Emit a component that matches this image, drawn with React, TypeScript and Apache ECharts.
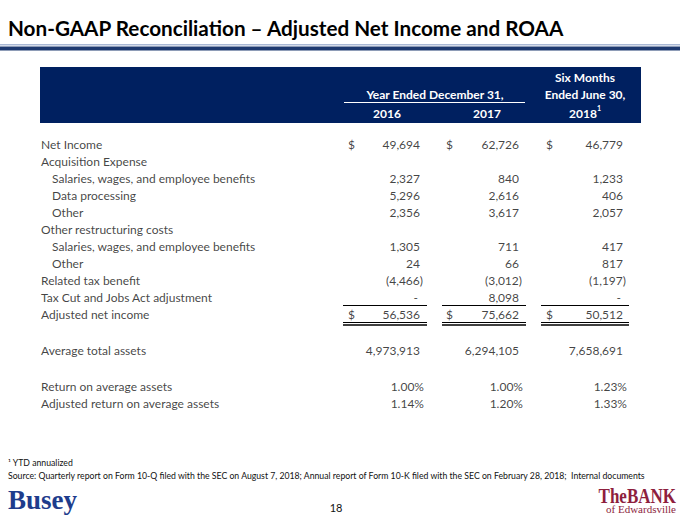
import React, { useEffect, useRef } from "react";
import * as echarts from "echarts";

// ---- Data ----
const rowLabels = [
  "Net Income",
  "Acquisition Expense",
  "Salaries, wages, and employee benefits",
  "Data processing",
  "Other",
  "Other restructuring costs",
  "Salaries, wages, and employee benefits",
  "Other",
  "Related tax benefit",
  "Tax Cut and Jobs Act adjustment",
  "Adjusted net income",
  "Average total assets",
  "Return on average assets",
  "Adjusted return on average assets",
];
const indentedRows = [2, 3, 4, 6, 7];
const dollarRows = [0, 10];
const percentRows = [12, 13];
const columnHeaders = ["2016", "2017", "2018"];
const values2016 = [49694, null, 2327, 5296, 2356, null, 1305, 24, -4466, 0, 56536, 4973913, 1.0, 1.14];
const values2017 = [62726, null, 840, 2616, 3617, null, 711, 66, -3012, 8098, 75662, 6294105, 1.0, 1.2];
const values2018 = [46779, null, 1233, 406, 2057, null, 417, 817, -1197, 0, 50512, 7658691, 1.23, 1.33];
const seriesValues = [values2016, values2017, values2018];

const TITLE = "Non-GAAP Reconciliation – Adjusted Net Income and ROAA";
const FOOTNOTE = "¹ YTD annualized";
const SOURCE =
  "Source: Quarterly report on Form 10-Q filed with the SEC on August 7, 2018; Annual report of Form 10-K filed with the SEC on February 28, 2018;  Internal documents";

// ---- Layout ----
const FONT = "Lato, 'Open Sans', sans-serif";
const NAVY = "#002060";
const colRight = [420, 519, 623];
const colDollar = [348, 446, 546];
const colLineL = [343, 442, 541];
const colLineR = [427, 526, 629];
const rowY = (i: number) => 144 + 17 * i + (i >= 11 ? 19 : 0) + (i >= 12 ? 19 : 0);

function fmt(v: number, row: number) {
  if (percentRows.includes(row)) return v.toFixed(2) + "%";
  if (v === 0) return "-";
  const s = Math.abs(v).toLocaleString("en-US");
  return v < 0 ? "(" + s + ")" : s;
}
function xShift(v: number, row: number) {
  if (percentRows.includes(row)) return 4;
  if (v === 0) return -2;
  if (v < 0) return 3;
  return 0;
}

export default function App() {
  const ref = useRef<HTMLDivElement>(null);
  useEffect(() => {
    if (!ref.current) return;
    const chart = echarts.init(ref.current, null, { renderer: "svg" });

    const labelData = rowLabels.map((name, i) => ({
      name,
      value: [indentedRows.includes(i) ? 52 : 41, rowY(i)],
    }));
    const dollarData: any[] = [];
    dollarRows.forEach((r) =>
      colDollar.forEach((x) => dollarData.push({ name: "$", value: [x, rowY(r)] }))
    );
    const valueData: any[] = [];
    seriesValues.forEach((vals, c) =>
      vals.forEach((v, r) => {
        if (v === null || v === undefined) return;
        valueData.push({ name: fmt(v, r), value: [colRight[c] + xShift(v, r), rowY(r)] });
      })
    );

    const textStyleBase = { fontFamily: FONT, fontSize: 12, color: "#111" };
    const hdr = (text: string, x: number, y: number) => ({
      type: "text",
      x,
      y,
      style: {
        text,
        fill: "#fff",
        font: `bold 12px ${FONT}`,
        align: "center",
        verticalAlign: "middle",
      },
    });

    const lines: any[] = [];
    colLineL.forEach((l, c) => {
      const r = colLineR[c];
      lines.push({ type: "line", shape: { x1: l, y1: 305.5, x2: r, y2: 305.5 }, style: { stroke: "#000", lineWidth: 1 } });
      lines.push({ type: "line", shape: { x1: l, y1: 322.5, x2: r, y2: 322.5 }, style: { stroke: "#000", lineWidth: 1 } });
      lines.push({ type: "line", shape: { x1: l, y1: 325, x2: r, y2: 325 }, style: { stroke: "#000", lineWidth: 1.5 } });
    });

    chart.setOption({
      animation: false,
      grid: { left: 0, right: 0, top: 0, bottom: 0 },
      xAxis: { type: "value", min: 0, max: 680, show: false },
      yAxis: { type: "value", min: 0, max: 517, inverse: true, show: false },
      series: [
        {
          type: "scatter",
          symbolSize: 0,
          silent: true,
          data: labelData,
          label: { show: true, position: "right", distance: 0, formatter: (p: any) => p.name, ...textStyleBase },
        },
        {
          type: "scatter",
          symbolSize: 0,
          silent: true,
          data: dollarData,
          label: { show: true, position: "right", distance: 0, formatter: (p: any) => p.name, ...textStyleBase },
        },
        {
          type: "scatter",
          symbolSize: 0,
          silent: true,
          data: valueData,
          label: { show: true, position: "left", distance: 0, formatter: (p: any) => p.name, ...textStyleBase },
        },
      ],
      graphic: [
        {
          type: "text",
          x: 8,
          y: 28,
          style: { text: TITLE, fill: "#000", font: `bold 20.7px ${FONT}`, verticalAlign: "middle" },
        },
        { type: "rect", shape: { x: 0, y: 44, width: 680, height: 1.5 }, style: { fill: "#A9B8D4" } },
        { type: "rect", shape: { x: 0, y: 46.5, width: 680, height: 4 }, style: { fill: "#1F3A70" } },
        { type: "rect", shape: { x: 40, y: 67, width: 601, height: 56 }, style: { fill: NAVY } },
        hdr("Six Months", 585, 77),
        hdr("Year Ended December 31,", 435, 94),
        hdr("Ended June 30,", 585, 94),
        { type: "line", shape: { x1: 344, y1: 102.5, x2: 525, y2: 102.5 }, style: { stroke: "#fff", lineWidth: 1 } },
        hdr(columnHeaders[0], 387, 113),
        hdr(columnHeaders[1], 487, 113),
        hdr(columnHeaders[2], 583, 113),
        {
          type: "text",
          x: 597,
          y: 108,
          style: { text: "1", fill: "#fff", font: `bold 7px ${FONT}`, verticalAlign: "middle" },
        },
        ...lines,
        {
          type: "text",
          x: 8,
          y: 462,
          style: { text: FOOTNOTE, fill: "#111", font: `8.7px ${FONT}`, verticalAlign: "middle" },
        },
        {
          type: "text",
          x: 8,
          y: 475,
          style: { text: SOURCE, fill: "#111", font: `8.7px ${FONT}`, verticalAlign: "middle" },
        },
        {
          type: "text",
          x: 336,
          y: 507,
          style: { text: "18", fill: "#111", font: `11px ${FONT}`, align: "center", verticalAlign: "middle" },
        },
        {
          type: "text",
          x: 8,
          y: 500,
          style: {
            text: "Busey",
            fill: "#1E3C8C",
            font: `bold 27px 'Liberation Serif', 'DejaVu Serif', serif`,
            verticalAlign: "middle",
          },
        },
        {
          type: "text",
          x: 676,
          y: 496,
          scaleX: 0.85,
          style: {
            text: "TheBANK",
            fill: "#8E1F3E",
            font: `bold 20px 'Liberation Serif', 'DejaVu Serif', serif`,
            align: "right",
            verticalAlign: "middle",
          },
        },
        {
          type: "text",
          x: 676,
          y: 509,
          style: {
            text: "of Edwardsville",
            fill: "#8E1F3E",
            font: `11px 'Liberation Serif', 'DejaVu Serif', serif`,
            align: "right",
            verticalAlign: "middle",
          },
        },
      ],
    });
    return () => chart.dispose();
  }, []);
  return (
    <div
      ref={ref}
      style={{ position: "fixed", left: 0, top: 0, width: 680, height: 517, background: "#fff" }}
    />
  );
}
